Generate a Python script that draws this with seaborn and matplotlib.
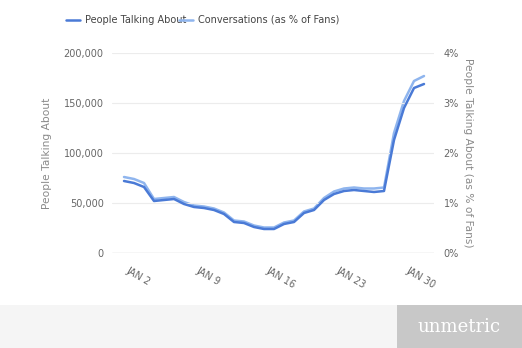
import matplotlib
matplotlib.use("Agg")
import matplotlib.pyplot as plt
import matplotlib.transforms as mtransforms
from matplotlib.patches import Rectangle
from matplotlib.ticker import FuncFormatter
import seaborn as sns
import pandas as pd
import numpy as np

# ---- data ----
dates = pd.date_range("2013-01-01", "2013-01-31", freq="D")
people_talking = [72000, 70000, 66000, 52000, 53000, 54000, 49000, 46000, 45000, 43000,
                  39000, 31000, 30000, 26000, 24000, 24000, 29000, 31000, 40000, 43000,
                  53000, 59000, 62000, 63000, 62000, 61000, 62000, 113000, 145000, 165000,
                  169000]
conversations_pct = [1.52, 1.48, 1.40, 1.08, 1.10, 1.12, 1.02, 0.95, 0.93, 0.89,
                     0.81, 0.65, 0.63, 0.55, 0.51, 0.51, 0.61, 0.65, 0.83, 0.89,
                     1.10, 1.23, 1.29, 1.31, 1.29, 1.29, 1.31, 2.40, 3.04, 3.44,
                     3.54]
tick_dates = pd.to_datetime(["2013-01-02", "2013-01-09", "2013-01-16", "2013-01-23", "2013-01-30"])
tick_labels = ["JAN 2", "JAN 9", "JAN 16", "JAN 23", "JAN 30"]
left_ticks = [0, 50000, 100000, 150000, 200000]
right_ticks = [0, 1, 2, 3, 4]

df = pd.DataFrame({"date": dates, "people": people_talking, "conv": conversations_pct})

DARK = "#4a7ad6"
LIGHT = "#8fb5ee"

sns.set_theme(style="white")
plt.rcParams["font.family"] = ["DejaVu Sans"]

W, H = 522, 348
fig = plt.figure(figsize=(W / 100, H / 100), dpi=100)
fig.patch.set_facecolor("white")

ax = fig.add_axes([112 / W, 1 - 253 / H, (434 - 112) / W, (253 - 53) / H])
ax2 = ax.twinx()

sns.lineplot(data=df, x="date", y="conv", ax=ax2, color=LIGHT, linewidth=1.8,
             label="Conversations (as % of Fans)", legend=False)
sns.lineplot(data=df, x="date", y="people", ax=ax, color=DARK, linewidth=1.8,
             label="People Talking About", legend=False)
ax.set_zorder(ax2.get_zorder() + 1)
ax.patch.set_visible(False)

xmin = dates[0] - pd.Timedelta(hours=1.2 * 24)
xmax = dates[-1] + pd.Timedelta(hours=1.0 * 24)
ax.set_xlim(xmin, xmax)
ax.set_ylim(0, 200000)
ax2.set_ylim(0, 4)

ax.set_yticks(left_ticks)
ax.yaxis.set_major_formatter(FuncFormatter(lambda v, p: f"{int(v):,}"))
ax2.set_yticks(right_ticks)
ax2.yaxis.set_major_formatter(FuncFormatter(lambda v, p: f"{int(v)}%"))

for a in (ax, ax2):
    for s in a.spines.values():
        s.set_visible(False)
ax.grid(axis="y", color="#ececec", linewidth=0.8)
ax.grid(axis="x", visible=False)
ax2.grid(False)
ax.axhline(0, color="#c8c8c8", linewidth=0.9, zorder=1)

ax.tick_params(axis="y", length=0, pad=6, labelsize=7, labelcolor="#666666")
ax2.tick_params(axis="y", length=0, pad=7, labelsize=7, labelcolor="#666666")

ax.set_xticks(tick_dates)
ax.set_xticklabels(tick_labels, rotation=-30, ha="left", va="center",
                   rotation_mode="anchor", fontsize=7, color="#666666")
ax.tick_params(axis="x", length=0, pad=0)
off = mtransforms.ScaledTranslation(-7 / 100, -17 / 100, fig.dpi_scale_trans)
for lbl in ax.get_xticklabels():
    lbl.set_transform(lbl.get_transform() + off)

ax.set_xlabel("")
ax.set_ylabel("People Talking About", fontsize=7.7, color="#8a8a8a")
ax.yaxis.set_label_coords((52 - 112) / (434 - 112), 0.5)
ax2.set_ylabel("People Talking About (as % of Fans)", fontsize=7.7, color="#8a8a8a",
               rotation=270, va="center")
ax2.yaxis.set_label_coords((468 - 112) / (434 - 112), 0.5)

# legend
h1, l1 = ax.get_legend_handles_labels()
h2, l2 = ax2.get_legend_handles_labels()
leg = fig.legend(h1 + h2, l1 + l2, loc="center left", bbox_to_anchor=(66 / W, 1 - 20 / H),
                 ncol=2, frameon=False, fontsize=7, handlelength=1.45, handletextpad=0.5,
                 columnspacing=-0.75, borderpad=0, borderaxespad=0)
for t in leg.get_texts():
    t.set_color("#444444")

# footer band
fig.patches.append(Rectangle((0, 0), 1, (H - 305) / H, transform=fig.transFigure,
                             facecolor="#f5f5f5", edgecolor="none", zorder=0))
fig.patches.append(Rectangle((397 / W, 0), 1 - 397 / W, (H - 305) / H, transform=fig.transFigure,
                             facecolor="#c8c8c8", edgecolor="none", zorder=1))
fig.text(459 / W, 1 - 327 / H, "unmetric", color="white", fontsize=13,
         family="DejaVu Serif", ha="center", va="center")

fig.savefig("out.png", dpi=100, facecolor="white")
